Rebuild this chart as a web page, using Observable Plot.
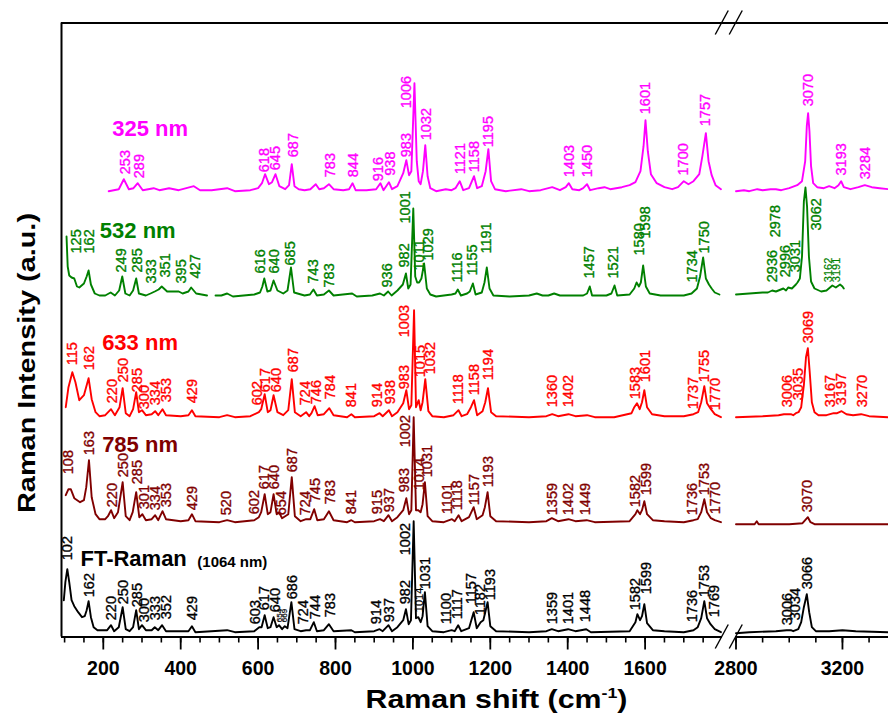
<!DOCTYPE html>
<html><head><meta charset="utf-8">
<script src="https://cdn.jsdelivr.net/npm/d3@7"></script>
<script src="https://cdn.jsdelivr.net/npm/@observablehq/plot@0.6"></script>
<style>body{margin:0;background:#fff}svg{display:block}</style>
</head><body><div id="chart"></div>
<script>
// ---- data ----
const names = ["325 nm", "532 nm", "633 nm", "785 nm", "FT-Raman"];
const colors = ["#ff00ff", "#008000", "#ff0000", "#800000", "#000000"];
const offsets = [445.8, 340.5, 219.8, 114.8, 4.8]; // stacking offsets (a.u.)

const majorTicks = [200, 400, 600, 800, 1000, 1200, 1400, 1600, 2800, 3200];
const minorTicks = [100,150,200,250,300,350,400,450,500,550,600,650,700,750,800,850,900,950,1000,1050,1100,1150,1200,1250,1300,1350,1400,1450,1500,1550,1600,1650,1700,1750,2800,2900,3000,3100,3200,3300];
const xDomain = [92, 1800, 2800, 3373];
const breakValue = 2300;

const spec325L = [[214,0],[240,2],[253,12],[266,2],[278,3],[289,8],[302,1],[330,3],[345,1],[370,3],[395,1],[434,5],[450,1],[480,1],[500,2],[520,3],[540,0],[580,1],[600,3],[610,8],[618,17],[628,7],[636,9],[645,17],[655,5],[670,2],[680,6],[687,27],[694,5],[705,2],[720,1],[735,2],[749,7],[758,2],[770,3],[783,7],[795,2],[820,1],[835,2],[844,8],[852,1],[880,1],[905,2],[916,8],[924,1],[938,9],[946,2],[960,5],[975,18],[983,31],[990,16],[996,20],[1004,108],[1010,30],[1015,10],[1020,7],[1026,20],[1032,46],[1038,15],[1045,3],[1060,0],[1085,2],[1100,1],[1110,3],[1121,10],[1130,1],[1145,3],[1158,15],[1166,3],[1178,5],[1188,20],[1195,42],[1202,10],[1212,2],[1240,0],[1280,2],[1300,0],[1330,1],[1360,4],[1380,1],[1395,4],[1403,8],[1412,2],[1430,1],[1440,3],[1450,7],[1458,1],[1480,3],[1495,4],[1510,2],[1540,4],[1560,6],[1575,9],[1588,20],[1596,45],[1601,71],[1607,40],[1615,17],[1630,8],[1650,4],[1670,2],[1685,4],[1700,10],[1712,7],[1725,10],[1740,17],[1748,35],[1757,58],[1764,30],[1772,16],[1782,6],[1796,2]];
const spec325R = [[2800,0],[2830,1],[2850,0],[2880,2],[2900,1],[2930,2],[2950,2],[2970,1],[3000,3],[3030,6],[3048,10],[3060,30],[3066,65],[3071,78],[3076,60],[3082,25],[3090,8],[3105,4],[3130,3],[3150,5],[3170,3],[3185,6],[3195,10],[3205,4],[3230,2],[3260,4],[3284,6],[3310,4],[3340,3],[3373,2]];

const spec532La = [[105,60],[108,30],[112,21],[118,19],[125,18],[132,10],[138,9],[150,13],[157,20],[162,26],[168,12],[178,3],[190,1],[205,1],[219,4],[230,1],[241,6],[249,20],[257,3],[268,1],[277,6],[285,18],[292,3],[310,1],[322,3],[333,5],[343,7],[351,10],[365,5],[385,5],[395,5],[405,3],[420,5],[427,9],[440,3],[468,1]];
const spec532Lb = [[490,1],[505,1],[520,3],[535,0],[590,2],[605,4],[611,10],[616,18],[624,5],[632,6],[640,16],[650,6],[665,3],[676,6],[685,29],[693,4],[720,1],[734,2],[743,7],[752,1],[770,2],[783,6],[795,1],[843,3],[855,0],[895,1],[915,3],[925,1],[936,5],[945,1],[960,6],[974,12],[982,23],[988,8],[994,12],[1001,88],[1006,20],[1011,14],[1016,14],[1022,18],[1029,33],[1036,8],[1045,2],[1060,0],[1100,2],[1110,3],[1116,7],[1124,1],[1140,3],[1147,5],[1155,13],[1162,2],[1178,4],[1185,14],[1191,29],[1198,8],[1208,1],[1250,0],[1300,1],[1320,3],[1335,1],[1350,1],[1365,3],[1380,1],[1440,1],[1450,3],[1457,10],[1463,1],[1500,1],[1513,3],[1521,11],[1528,1],[1560,2],[1572,8],[1578,14],[1584,10],[1589,14],[1595,31],[1602,10],[1612,3],[1640,1],[1700,1],[1720,3],[1734,8],[1742,20],[1750,39],[1757,18],[1765,12],[1772,8],[1780,4],[1792,2]];
const spec532R = [[2800,2],[2850,3],[2900,4],[2920,4],[2936,6],[2950,5],[2978,8],[2988,6],[2996,9],[3010,8],[3025,12],[3031,14],[3040,18],[3048,40],[3055,95],[3061,109],[3067,90],[3074,40],[3082,15],[3095,8],[3120,5],[3140,6],[3162,11],[3175,9],[3191,12],[3200,10],[3205,8]];

const spec633L = [[103,10],[110,30],[120,45],[128,35],[138,17],[150,22],[162,39],[170,18],[180,5],[190,1],[205,2],[220,8],[230,2],[242,10],[250,29],[258,4],[268,1],[277,8],[285,25],[292,5],[300,7],[310,2],[325,3],[334,6],[342,2],[353,8],[362,2],[400,1],[420,2],[429,7],[438,1],[500,0],[520,2],[540,0],[580,1],[602,5],[608,8],[617,23],[625,5],[632,7],[640,22],[650,5],[665,2],[678,7],[687,38],[695,5],[710,1],[724,5],[732,1],[738,4],[746,11],[754,2],[770,3],[784,9],[795,2],[830,0],[841,3],[850,0],[900,1],[914,4],[922,1],[938,7],[946,1],[960,5],[975,14],[983,27],[990,8],[996,12],[1003,107],[1008,10],[1015,17],[1020,7],[1025,15],[1032,38],[1040,6],[1050,1],[1080,0],[1105,2],[1118,7],[1126,1],[1140,3],[1150,10],[1158,17],[1166,2],[1180,6],[1187,15],[1194,29],[1202,5],[1215,1],[1300,0],[1345,1],[1360,3],[1375,1],[1402,3],[1420,1],[1450,2],[1470,0],[1520,0],[1565,4],[1572,10],[1579,14],[1586,8],[1592,15],[1598,27],[1605,10],[1618,3],[1650,1],[1700,1],[1725,3],[1737,5],[1745,15],[1753,31],[1760,14],[1770,8],[1780,3],[1796,0]];
const spec633R = [[2800,0],[2900,1],[2960,2],[2980,3],[3006,3],[3015,2],[3025,4],[3035,5],[3045,10],[3055,32],[3063,60],[3070,69],[3077,45],[3085,15],[3095,5],[3110,2],[3140,2],[3167,4],[3180,4],[3197,6],[3215,3],[3240,2],[3270,3],[3300,1],[3373,0]];

const spec785L = [[103,27],[110,33],[116,33],[125,24],[140,20],[150,22],[156,35],[163,62],[170,25],[180,8],[190,3],[205,3],[212,6],[220,12],[228,4],[238,10],[250,40],[258,6],[268,2],[276,10],[285,30],[293,5],[301,8],[310,2],[325,3],[334,7],[342,2],[353,11],[362,3],[400,1],[420,2],[429,8],[438,1],[500,0],[520,2],[540,0],[590,2],[602,5],[608,10],[617,28],[625,8],[632,10],[640,28],[648,8],[654,10],[662,4],[678,8],[687,45],[695,6],[710,1],[724,3],[735,3],[745,13],[753,2],[770,3],[783,11],[795,2],[830,0],[841,2],[850,0],[900,1],[915,3],[925,1],[937,7],[946,1],[960,5],[975,12],[983,24],[990,8],[996,12],[1002,105],[1008,12],[1014,12],[1020,10],[1025,18],[1031,40],[1038,6],[1050,1],[1080,0],[1101,3],[1108,1],[1118,7],[1126,1],[1145,5],[1157,15],[1165,3],[1180,7],[1186,15],[1193,30],[1200,6],[1215,1],[1300,0],[1345,1],[1359,4],[1375,1],[1402,3],[1420,1],[1449,2],[1470,0],[1560,1],[1575,8],[1580,12],[1587,8],[1592,12],[1598,21],[1605,8],[1620,2],[1650,1],[1700,0],[1725,2],[1736,3],[1745,10],[1753,23],[1760,10],[1770,4],[1780,2],[1796,0]];
const spec785R = [[2800,-2],[2870,-2],[2878,1],[2885,-2],[3000,-2],[3050,-1],[3060,2],[3070,5],[3080,0],[3095,-2],[3373,-2]];

const specFTL = [[98,32],[102,50],[107,63],[112,50],[118,32],[125,26],[135,20],[145,15],[152,16],[157,22],[162,31],[168,15],[175,5],[185,2],[210,2],[220,7],[228,1],[240,5],[250,25],[258,3],[268,1],[277,5],[285,22],[292,3],[300,7],[310,2],[325,2],[333,5],[342,2],[352,7],[362,1],[420,1],[429,6],[438,0],[520,2],[540,0],[590,1],[603,5],[609,5],[617,17],[625,4],[632,5],[640,15],[648,5],[654,7],[662,3],[669,6],[676,4],[686,30],[694,3],[710,1],[724,2],[734,2],[744,10],[752,1],[770,2],[783,8],[795,1],[841,2],[850,0],[900,1],[914,3],[922,1],[937,7],[946,1],[960,5],[975,12],[982,23],[989,8],[995,12],[1002,111],[1008,14],[1014,15],[1020,10],[1025,16],[1031,40],[1038,6],[1050,1],[1080,0],[1100,2],[1108,1],[1117,7],[1125,1],[1145,4],[1157,20],[1165,4],[1175,10],[1182,12],[1187,20],[1193,30],[1200,6],[1215,1],[1300,0],[1345,1],[1359,3],[1375,1],[1401,3],[1420,1],[1448,3],[1460,0],[1560,1],[1575,10],[1580,18],[1587,12],[1592,16],[1598,28],[1605,9],[1620,2],[1650,1],[1700,0],[1725,2],[1736,5],[1745,14],[1753,31],[1760,14],[1769,8],[1780,3],[1796,0]];
const specFTR = [[2800,-1],[2850,0],[2950,1],[2990,2],[3006,2],[3015,1],[3034,3],[3045,10],[3055,25],[3066,38],[3075,20],[3085,5],[3100,1],[3150,1],[3200,2],[3250,1],[3373,0]];

// peak labels: [text, anchor wavenumber, height above series baseline]
const labels325 = [["253",258,17],["289",292,13],["618",617,19],["645",645,21],["687",690,34],["783",786,14],["844",845,14],["916",912,10],["938",942,15.5],["983",984,34],["1006",984,83],["1032",1035,51],["1121",1123,17],["1158",1159,19],["1195",1196,44],["1403",1405,14],["1450",1450,14],["1601",1601,77],["1700",1698,15.7],["1757",1756,65],["3070",3071,85],["3193",3195,15.7],["3284",3287,12]];
const labels532 = [["125",131,43],["162",163,43],["249",247,24],["285",288,24],["333",324,13],["351",361,19],["395",402,13],["427",438,18],["616",606,23],["640",643,23],["685",684,31],["743",744,13],["783",783,9],["936",935,9],["982",977,29],["1001",981,73],["1011",1016,26],["1029",1041,36],["1116",1115,14],["1155",1153,21],["1191",1190,43],["1457",1455,18],["1521",1519,18],["1580",1584,41],["1598",1601,58],["1734",1722,14],["1750",1753,43],["2936",2935,14.3],["2978",2948,59.3],["2996",2985,19.3],["3031",3023,24.3],["3062",3101,66]];
const labels532small = [["3162",3148,14.3],["3191",3177,14.3]];
const labels633 = [["115",120,52],["162",165,47],["220",223,14],["250",253,35],["285",289,25],["300",305,8],["334",335,12],["353",364,15],["429",430,14],["602",598,12],["617",619,25],["640",648,25],["687",690,45],["724",723,12],["746",751,13],["784",787,18],["841",842,10],["914",908,10],["938",941,13],["983",977,28],["1003",977,80],["1015",1020,40],["1032",1046,43],["1118",1117,13],["1158",1158,22],["1194",1196,37],["1360",1360,10],["1402",1401,10],["1583",1575,18],["1601",1601,35],["1737",1724,8],["1755",1754,35],["1770",1782,7],["3006",2994,10],["3035",3035,17],["3069",3071,74],["3167",3155,10],["3197",3197,12],["3270",3275,10]];
const labels785 = [["108",111,48],["163",165,67],["220",223,15],["250",252,45],["285",289,38],["301",305,13],["334",335,12],["353",364,15],["429",430,12],["520",518,7],["602",591,8],["617",617,33],["640",643,33],["654",660,7],["687",688,50],["724",723,7],["745",749,20],["783",787,18],["841",842,8],["915",908,8],["937",938,10],["983",977,30],["1002",981,75],["1014",1016,32],["1031",1037,45],["1101",1089,8],["1118",1115,12],["1157",1158,17],["1193",1194,35],["1359",1360,7],["1402",1401,7],["1449",1446,7],["1582",1575,15],["1599",1603,27],["1736",1722,7],["1753",1754,27],["1770",1782,8],["3070",3070,10]];
const labelsFT = [["102",107,72],["162",165,35],["220",222,12],["250",252,28],["285",289,25],["300",307,10],["333",335,12],["352",364,13],["429",430,12],["603",594,8],["617",617,22],["640",645,20],["686",688,33],["724",718,8],["744",749,13],["783",787,15],["914",906,8],["937",938,10],["982",981,28],["1002",981,77],["1031",1033,43],["1100",1087,8],["1117",1115,13],["1157",1151,28],["1182",1175,17],["1193",1199,32],["1359",1360,8],["1401",1401,8],["1448",1446,10],["1582",1575,22],["1599",1603,38],["1736",1722,10],["1753",1752,35],["1769",1780,15],["3006",2992,7],["3034",3023,12],["3066",3067,43]];
const labelsFTmid = [["1014",1016,20]];
const labelsFTtiny = [["654",656,10],["669",669,10]];

// series titles: [text, start wavenumber, height above baseline, series index]
const titleRows = [["325 nm",223,62.4,0],["532 nm",191,65.2,1],["633 nm",197,74.2,2],["785 nm",197,77.5,3],["FT-Raman",141,73.4,4]];
const subTitleRows = [["(1064 nm)",443,70.4,4]];

// ---- chart ----
const segs = [
  [spec325L, 0], [spec325R, 0],
  [spec532La, 1], [spec532Lb, 1], [spec532R, 1],
  [spec633L, 2], [spec633R, 2],
  [spec785L, 3], [spec785R, 3],
  [specFTL, 4], [specFTR, 4]
];
const labelSets = [[labels325,0,14.5],[labels532,1,14.5],[labels532small,1,11],[labels633,2,14.5],[labels785,3,14.5],[labelsFT,4,14.5],[labelsFTmid,4,11],[labelsFTtiny,4,8]];

const plot = Plot.plot({
  width: 888, height: 716,
  marginLeft: 61, marginRight: 0, marginTop: 22.5, marginBottom: 79.5,
  x: {type: "linear", domain: xDomain, range: [61, 722, 735.5, 888]},
  y: {domain: [0, 614], axis: null},
  style: {background: "#fff", fontFamily: "'Liberation Sans', Arial, sans-serif"},
  marks: [
    ...segs.map(([pts, i]) => Plot.line(pts, {x: d => d[0], y: d => d[1] + offsets[i], stroke: colors[i], strokeWidth: 1.9})),
    ...labelSets.map(([arr, i, fs]) => Plot.text(arr, {x: d => d[1], y: d => d[2] + offsets[i], text: d => d[0], rotate: -90, textAnchor: "start", lineAnchor: "middle", fill: colors[i], stroke: colors[i], strokeWidth: fs > 12 ? 0.35 : 0.2, fontSize: fs})),
    Plot.text(titleRows, {x: d => d[1], y: d => d[2] + offsets[d[3]], text: d => d[0], fill: d => colors[d[3]], fontSize: 22, fontWeight: "bold", textAnchor: "start", lineAnchor: "middle"}),
    Plot.text(subTitleRows, {x: d => d[1], y: d => d[2] + offsets[d[3]], text: d => d[0], fill: d => colors[d[3]], fontSize: 15, fontWeight: "bold", textAnchor: "start", lineAnchor: "middle"}),
    Plot.ruleX([xDomain[0]], {stroke: "#000", strokeWidth: 2}),
    Plot.ruleY([614], {stroke: "#000", strokeWidth: 2.2}),
    Plot.ruleY([{x1: xDomain[0], x2: xDomain[1]}, {x1: 2792, x2: xDomain[3]}], {y: () => 0, x1: "x1", x2: "x2", stroke: "#000", strokeWidth: 2}),
    Plot.axisX({ticks: minorTicks, tickSize: 6, tickFormat: () => "", strokeWidth: 1.6, label: null}),
    Plot.axisX({ticks: majorTicks, tickSize: 13, tickPadding: 11, tickFormat: d => String(d), strokeWidth: 1.8, fontSize: 19.5, fontWeight: "bold", fill: "#000", label: null})
  ]
});
document.getElementById("chart").appendChild(plot);

// axis titles and break marks
const svg = d3.select(plot);
const xs = plot.scale("x"), ys = plot.scale("y");
const bx = xs.apply(breakValue);
for (const yc of [ys.apply(614), ys.apply(0)]) {
  for (const o of [-13.5, 0.5]) {
    svg.append("line").attr("x1", bx + o).attr("y1", yc + 12).attr("x2", bx + o + 13).attr("y2", yc - 12)
      .attr("stroke", "#000").attr("stroke-width", 1.4);
  }
}
const xt = svg.append("g").attr("transform", "translate(496.5,708.3) scale(1.19,1)")
  .append("text").attr("text-anchor", "middle").attr("font-weight", "bold").attr("font-size", 25.5)
  .attr("font-family", "'Liberation Sans', Arial, sans-serif").attr("fill", "#000");
xt.append("tspan").text("Raman shift (cm");
xt.append("tspan").attr("font-size", 15).attr("dy", -10).text("-1");
xt.append("tspan").attr("dy", 10).text(")");
svg.append("text").attr("transform", "translate(35,363) rotate(-90)").attr("text-anchor", "middle")
  .attr("font-weight", "bold").attr("font-size", 24).attr("textLength", 300).attr("lengthAdjust", "spacingAndGlyphs")
  .attr("font-family", "'Liberation Sans', Arial, sans-serif").attr("fill", "#000").text("Raman Intensity (a.u.)");
</script>
</body></html>
